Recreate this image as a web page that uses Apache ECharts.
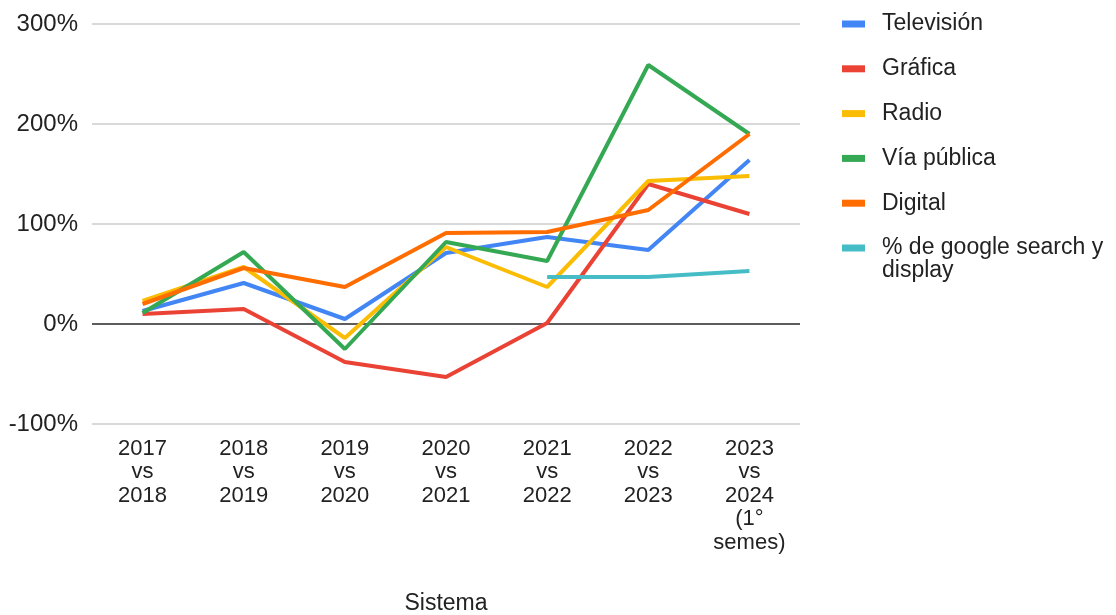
<!DOCTYPE html>
<html>
<head>
<meta charset="utf-8">
<script src="https://cdn.jsdelivr.net/npm/echarts@6/dist/echarts.min.js"></script>
<style>
  html, body { margin: 0; padding: 0; background: #fff; }
  #chart { width: 1116px; height: 615px; }
</style>
</head>
<body>
<div id="chart"></div>
<script>
// Year-over-year change (%) per media channel
const categories = [
  '2017\nvs\n2018', '2018\nvs\n2019', '2019\nvs\n2020', '2020\nvs\n2021',
  '2021\nvs\n2022', '2022\nvs\n2023', '2023\nvs\n2024\n(1°\nsemes)'
];
const television = [13, 41, 5, 71, 87, 74, 164];
const grafica    = [10, 15, -38, -53, 1, 140, 110];
const radio      = [23, 57, -14, 77, 37, 143, 148];
const viaPublica = [11, 72, -25, 82, 63, 259, 190];
const digital    = [20, 56, 37, 91, 92, 114, 190];
const google     = [null, null, null, null, 47, 47, 53];

const seriesNames = ['Televisión', 'Gráfica', 'Radio', 'Vía pública', 'Digital', '% de google search y display'];
const seriesColors = ['#4285F4', '#EA4335', '#FBBC04', '#34A853', '#FF6D01', '#46BDC6'];
const yTicks = { min: -100, max: 300, interval: 100 };

const FONT = '"Liberation Sans", Arial, sans-serif';
const chart = echarts.init(document.getElementById('chart'), null, { renderer: 'canvas' });

const values = [television, grafica, radio, viaPublica, digital, google];
const series = values.map((data, i) => ({
  name: seriesNames[i],
  type: 'line',
  data: data,
  symbol: 'none',
  connectNulls: false,
  lineStyle: { width: 4, color: seriesColors[i] },
  itemStyle: { color: seriesColors[i] },
  z: 2 + i
}));

// zero baseline
series[0].markLine = {
  silent: true,
  symbol: 'none',
  label: { show: false },
  lineStyle: { color: '#333', width: 1.5, type: 'solid' },
  data: [{ yAxis: 0 }],
  z: 1
};

const legendBase = {
  orient: 'vertical',
  left: 837,
  itemWidth: 23,
  itemHeight: 7,
  itemGap: 21.8,
  icon: 'rect',
  textStyle: { fontFamily: FONT, fontSize: 23, color: '#222', lineHeight: 23, padding: [0, 0, 0, 12] }
};

chart.setOption({
  animation: false,
  backgroundColor: '#fff',
  textStyle: { fontFamily: FONT },
  grid: { left: 92, right: 316, top: 24, bottom: 191, containLabel: false, outerBoundsMode: 'none' },
  legend: [
    Object.assign({}, legendBase, { top: 7.5, data: seriesNames.slice(0, 5) }),
    Object.assign({}, legendBase, {
      top: 208.5,
      data: seriesNames.slice(5),
      // two-line label; leading blank line keeps the swatch beside the first line
      formatter: function () { return '\n% de google search y\ndisplay'; }
    })
  ],
  xAxis: {
    type: 'category',
    data: categories,
    boundaryGap: true,
    axisLine: { show: false },
    axisTick: { show: false },
    axisLabel: {
      interval: 0,
      margin: 13,
      fontFamily: FONT,
      fontSize: 22,
      lineHeight: 23.5,
      color: '#222',
      align: 'center'
    },
    name: 'Sistema',
    nameLocation: 'middle',
    nameGap: 168,
    nameTextStyle: { fontFamily: FONT, fontSize: 23, color: '#222' }
  },
  yAxis: {
    type: 'value',
    min: yTicks.min,
    max: yTicks.max,
    interval: yTicks.interval,
    axisLine: { show: false },
    axisTick: { show: false },
    axisLabel: {
      formatter: '{value}%',
      margin: 14,
      fontFamily: FONT,
      fontSize: 24,
      color: '#222'
    },
    splitLine: { show: true, lineStyle: { color: '#cccccc', width: 1.5 } }
  },
  series: series
});
</script>
</body>
</html>
